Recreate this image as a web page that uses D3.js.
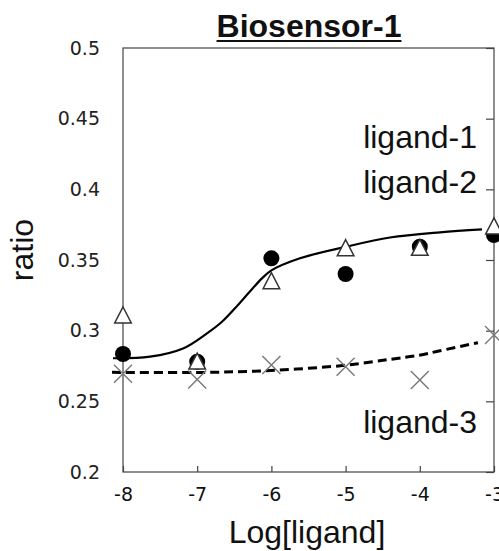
<!DOCTYPE html>
<html>
<head>
<meta charset="utf-8">
<script src="https://cdn.jsdelivr.net/npm/d3@7"></script>
<style>
html,body{margin:0;padding:0;background:#fff;}
svg{display:block;}
</style>
</head>
<body>
<svg id="chart" width="499" height="551"></svg>
<script>
// ---- data ----
const logLigand = [-8, -7, -6, -5, -4, -3];
const ligand1 = [0.2835, 0.2780, 0.3512, 0.3401, 0.3594, 0.3677];   // filled circles
const ligand2 = [0.3111, 0.2785, 0.3354, 0.3587, 0.3590, 0.3741];   // open triangles
const ligand3 = [0.2695, 0.2655, 0.2757, 0.2745, 0.2651, 0.2969];   // crosses
const fitSolidX = [-8.135, -7.636, -7.191, -6.868, -6.666, -6.450, -6.302, -6.127, -6.005, -5.615, -5.008, -4.402, -3.728, -3.162];
const fitSolidY = [0.2805, 0.2816, 0.2874, 0.2981, 0.3063, 0.3182, 0.3270, 0.3370, 0.3425, 0.3512, 0.3592, 0.3659, 0.3696, 0.3716];
const fitDashX = [-8.148, -7.003, -6.005, -5.008, -4.402, -4.011, -3.728, -3.216];
const fitDashY = [0.2705, 0.2704, 0.2718, 0.2755, 0.2797, 0.2826, 0.2858, 0.2915];
const yTicks = [0.2, 0.25, 0.3, 0.35, 0.4, 0.45, 0.5];
const xTicks = [-8, -7, -6, -5, -4, -3];
const legendLabels = ["ligand-1", "ligand-2", "ligand-3"];

// ---- layout ----
const svg = d3.select("#chart");
const L = 123, R = 494, T = 48, B = 472;
const x = d3.scaleLinear().domain([-8, -3]).range([L, R]);
const y = d3.scaleLinear().domain([0.2, 0.5]).range([B, T]);

// frame
svg.append("rect").attr("x", L).attr("y", T).attr("width", R - L).attr("height", B - T)
  .attr("fill", "none").attr("stroke", "#444").attr("stroke-width", 1.2);

// bottom axis (inward ticks)
const xAxis = svg.append("g").attr("transform", `translate(0,${B})`)
  .call(d3.axisBottom(x).tickValues(xTicks).tickSizeInner(-6).tickSizeOuter(0).tickPadding(16).tickFormat(d3.format("d")));
xAxis.select(".domain").remove();
xAxis.selectAll("line").attr("stroke", "#444").attr("stroke-width", 1.2);
xAxis.selectAll("text").attr("font-family", "DejaVu Sans").attr("font-size", 19).attr("fill", "#111")
  .text(d => d < 0 ? "-" + Math.abs(d) : d);

// left axis labels (no ticks)
const yAxis = svg.append("g").attr("transform", `translate(${L},0)`)
  .call(d3.axisLeft(y).tickValues(yTicks).tickSize(0).tickPadding(23).tickFormat(d => String(+d.toFixed(2))));
yAxis.select(".domain").remove();
yAxis.selectAll("text").attr("font-family", "DejaVu Sans").attr("font-size", 19).attr("fill", "#222");

// right axis ticks (inward)
const rAxis = svg.append("g").attr("transform", `translate(${R},0)`)
  .call(d3.axisRight(y).tickValues(yTicks).tickSizeInner(-8).tickSizeOuter(0).tickFormat(""));
rAxis.select(".domain").remove();
rAxis.selectAll("line").attr("stroke", "#444").attr("stroke-width", 1.2);

// fitted curves
const line = d3.line().x(d => x(d[0])).y(d => y(d[1])).curve(d3.curveCatmullRom.alpha(0.5));
svg.append("path").datum(d3.zip(fitSolidX, fitSolidY)).attr("d", line)
  .attr("fill", "none").attr("stroke", "#000").attr("stroke-width", 2.2);
svg.append("path").datum(d3.zip(fitDashX, fitDashY)).attr("d", line)
  .attr("fill", "none").attr("stroke", "#000").attr("stroke-width", 3).attr("stroke-dasharray", "9,5");

// ligand-1 circles
svg.append("g").selectAll("circle").data(d3.zip(logLigand, ligand1)).join("circle")
  .attr("cx", d => x(d[0])).attr("cy", d => y(d[1])).attr("r", 8).attr("fill", "#000");

// ligand-2 triangles
const tri = {draw(ctx, size) { const w = 8.3, h = 8; ctx.moveTo(0, -h); ctx.lineTo(w, h); ctx.lineTo(-w, h); ctx.closePath(); }};
svg.append("g").selectAll("path").data(d3.zip(logLigand, ligand2)).join("path")
  .attr("transform", d => `translate(${x(d[0])},${y(d[1])})`)
  .attr("d", d3.symbol().type(tri).size(1)())
  .attr("fill", "#fff").attr("stroke", "#333").attr("stroke-width", 1.5);

// ligand-3 crosses
svg.append("g").selectAll("path").data(d3.zip(logLigand, ligand3)).join("path")
  .attr("transform", d => `translate(${x(d[0])},${y(d[1])})`)
  .attr("d", "M-9,-9L9,9M-9,9L9,-9")
  .attr("fill", "none").attr("stroke", "#777").attr("stroke-width", 1.4);

// legend texts
const legY = [148, 193, 433];
svg.append("g").selectAll("text").data(legendLabels).join("text")
  .attr("x", 477).attr("y", (d, i) => legY[i]).attr("text-anchor", "end")
  .attr("font-family", "Liberation Sans, Arial, sans-serif").attr("font-size", 32).attr("fill", "#111")
  .text(d => d);

// title
const title = svg.append("text").attr("x", 309).attr("y", 37).attr("text-anchor", "middle")
  .attr("font-family", "Liberation Sans, Arial, sans-serif").attr("font-size", 32).attr("font-weight", "bold")
  .attr("fill", "#111").text("Biosensor-1");
const tb = title.node().getBBox();
svg.append("line").attr("x1", tb.x).attr("x2", tb.x + tb.width).attr("y1", 41).attr("y2", 41)
  .attr("stroke", "#111").attr("stroke-width", 2);

// axis titles
svg.append("text").attr("x", 307).attr("y", 543).attr("text-anchor", "middle")
  .attr("font-family", "Liberation Sans, Arial, sans-serif").attr("font-size", 32).attr("fill", "#111")
  .text("Log[ligand]");
svg.append("text").attr("transform", "translate(33,250) rotate(-90)").attr("text-anchor", "middle")
  .attr("font-family", "Liberation Sans, Arial, sans-serif").attr("font-size", 32).attr("fill", "#111")
  .text("ratio");
</script>
</body>
</html>
